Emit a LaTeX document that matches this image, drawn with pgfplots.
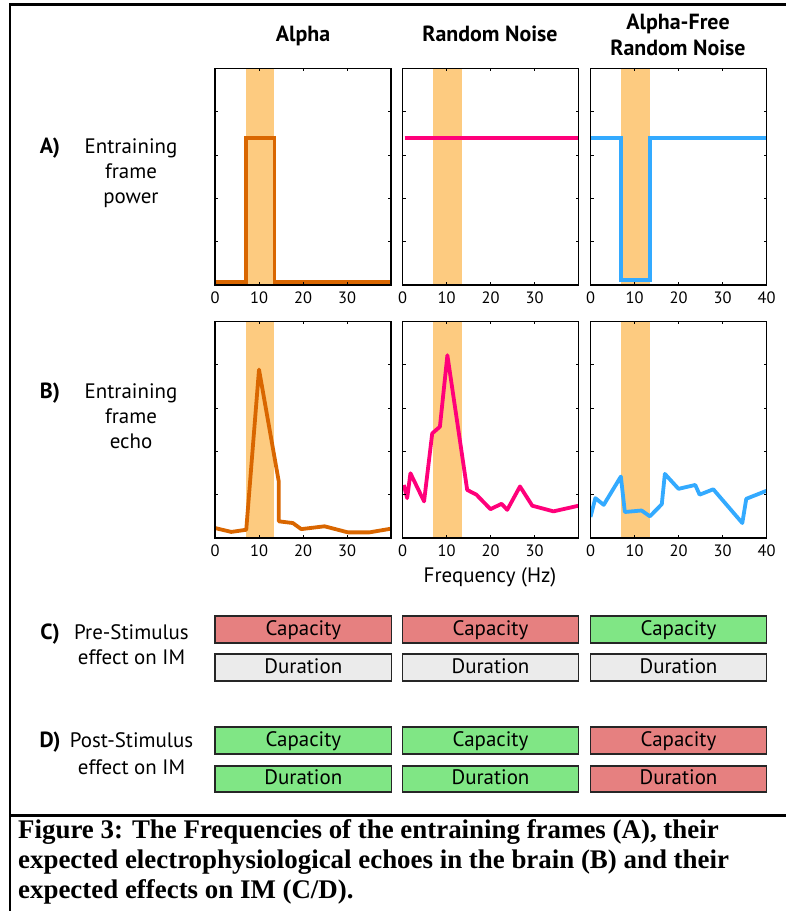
\documentclass[border=0pt]{standalone}
\usepackage{fontspec}
\setmainfont{PT Sans}
\newfontfamily\capfont{Liberation Serif}
\usepackage{pgfplots}
\pgfplotsset{compat=1.18}
\definecolor{band}{RGB}{253,203,128}
\definecolor{ora}{RGB}{217,102,0}
\definecolor{pnk}{RGB}{255,0,122}
\definecolor{blu}{RGB}{51,170,255}
\definecolor{cred}{RGB}{230,128,128}
\definecolor{cgrn}{RGB}{128,230,133}
\definecolor{cgry}{RGB}{235,235,235}
\pgfplotsset{
  panel/.style={scale only axis, width=176bp, height=216.5bp,
    xmin=0, xmax=40, ymin=0, ymax=1,
    xtick={0,10,20,30,40}, ytick={0.2,0.4,0.6,0.8}, yticklabels={},
    tick align=inside, major tick length=3bp,
    axis line style={line width=1.2bp},
    tick style={line width=0.8bp, black},
    ticklabel style={font=\fontsize{16.5}{16.5}\selectfont},
    xticklabel style={yshift=-3bp},
    /pgf/number format/assume math mode=true,
    axis on top, clip=true},
  band/.style={draw=none, fill=band, forget plot},
  step/.style={line width=3.8bp, line join=miter},
  echo/.style={line width=3.8bp, line join=round},
}
\newcommand{\lab}{\fontsize{21}{21}\selectfont}
\newcommand{\ttl}{\bfseries\fontsize{22}{22}\selectfont}
\begin{document}
\begin{tikzpicture}
\begin{scope}[x=1bp, y=1bp]
\path[use as bounding box] (0,0) rectangle (786,911);
% frame
\draw[line width=2.5bp] (10,0) -- (10,906.5) -- (786,906.5);
\draw[line width=2.5bp] (10,95.5) -- (786,95.5);
% titles
\node[anchor=base, font=\ttl] at (303,869) {Alpha};
\node[anchor=base, font=\ttl] at (490,869) {Random Noise};
\node[anchor=base, font=\ttl] at (678,881) {Alpha-Free};
\node[anchor=base, font=\ttl] at (678,855) {Random Noise};
% row A
\node[anchor=base, font=\ttl] at (50,757) {A)};
\node[anchor=base, font=\lab] at (131,757) {Entraining};
\node[anchor=base, font=\lab] at (131,732) {frame};
\node[anchor=base, font=\lab] at (131,707) {power};
% row B
\node[anchor=base, font=\ttl] at (50,512) {B)};
\node[anchor=base, font=\lab] at (131,512) {Entraining};
\node[anchor=base, font=\lab] at (131,487) {frame};
\node[anchor=base, font=\lab] at (131,462) {echo};
\node[anchor=base, font=\lab] at (490,328) {Frequency (Hz)};
% rows C/D labels
\node[anchor=base, font=\ttl] at (50,271) {C)};
\node[anchor=base, font=\lab] at (131.5,271) {Pre-Stimulus};
\node[anchor=base, font=\lab] at (131.5,246) {effect on IM};
\node[anchor=base, font=\ttl] at (50,163) {D)};
\node[anchor=base, font=\lab] at (131.5,163) {Post-Stimulus};
\node[anchor=base, font=\lab] at (131.5,136) {effect on IM};
% boxes
\foreach \xl/\xr/\ca/\cb/\da/\db in {215/391.7/cred/cgry/cgrn/cgrn, 402.5/578.5/cred/cgry/cgrn/cgrn, 590.5/766.5/cgrn/cgry/cred/cred}{
  \draw[line width=1.2bp, fill=\ca, draw=black!85] (\xl,295) rectangle (\xr,268);
  \draw[line width=1.2bp, fill=\cb, draw=black!85] (\xl,257) rectangle (\xr,230);
  \draw[line width=1.2bp, fill=\da, draw=black!85] (\xl,184) rectangle (\xr,157);
  \draw[line width=1.2bp, fill=\db, draw=black!85] (\xl,145) rectangle (\xr,119);
  \node[anchor=base, font=\lab] at ({(\xl+\xr)/2},275) {Capacity};
  \node[anchor=base, font=\lab] at ({(\xl+\xr)/2},237) {Duration};
  \node[anchor=base, font=\lab] at ({(\xl+\xr)/2},164) {Capacity};
  \node[anchor=base, font=\lab] at ({(\xl+\xr)/2},126) {Duration};
}
% caption
\node[anchor=base west, inner sep=0pt, font=\capfont\bfseries\fontsize{27}{27}\selectfont] at (18,72) {Figure 3: The Frequencies of the entraining frames (A), their};
\node[anchor=base west, inner sep=0pt, font=\capfont\bfseries\fontsize{27}{27}\selectfont] at (18,42) {expected electrophysiological echoes in the brain (B) and their};
\node[anchor=base west, inner sep=0pt, font=\capfont\bfseries\fontsize{27}{27}\selectfont] at (18,12) {expected effects on IM (C/D).};
\end{scope}
% axes row 1
\begin{axis}[panel, at={(215bp,626bp)}, anchor=south west, xticklabels={0,10,20,30,{}}]
\addplot[band] coordinates {(7,1) (13.5,1)} \closedcycle;
\addplot[step, ora] coordinates {(0,0.012)(7,0.012)(7,0.68)(13.5,0.68)(13.5,0.012)(40,0.012)};
\end{axis}
\begin{axis}[panel, at={(402.5bp,626bp)}, anchor=south west, xticklabels={0,10,20,30,{}}]
\addplot[band] coordinates {(7,1) (13.5,1)} \closedcycle;
\addplot[step, pnk] coordinates {(0.5,0.68)(40,0.68)};
\end{axis}
\begin{axis}[panel, at={(590.5bp,626bp)}, anchor=south west]
\addplot[band] coordinates {(7,1) (13.5,1)} \closedcycle;
\addplot[step, blu] coordinates {(0,0.68)(7,0.68)(7,0.022)(13.5,0.022)(13.5,0.68)(40,0.68)};
\end{axis}
% axes row 2
\begin{axis}[panel, at={(215bp,373bp)}, anchor=south west, xticklabels={0,10,20,30,{}}]
\addplot[band] coordinates {(7,1) (13.5,1)} \closedcycle;
\addplot[echo, ora] coordinates {(0,0.046)(3.7,0.028)(7.1,0.038)(10,0.778)(14.5,0.26)(14.5,0.077)(17.7,0.069)(19.6,0.041)(24.9,0.054)(30.2,0.026)(35.1,0.026)(40,0.043)};
\end{axis}
\begin{axis}[panel, at={(402.5bp,373bp)}, anchor=south west, xticklabels={0,10,20,30,{}}]
\addplot[band] coordinates {(7,1) (13.5,1)} \closedcycle;
\addplot[echo, pnk] coordinates {(0.3,0.245)(1.06,0.184)(1.8,0.299)(4.9,0.169)(6.75,0.483)(8.5,0.514)(10.2,0.844)(14.7,0.222)(16.8,0.2)(20.0,0.133)(22.5,0.158)(23.8,0.13)(26.7,0.238)(29.5,0.149)(34.3,0.123)(40,0.149)};
\end{axis}
\begin{axis}[panel, at={(590.5bp,373bp)}, anchor=south west]
\addplot[band] coordinates {(7,1) (13.5,1)} \closedcycle;
\addplot[echo, blu] coordinates {(0,0.097)(1.1,0.184)(3.0,0.153)(6.9,0.284)(7.8,0.12)(11.6,0.127)(13.5,0.1)(16.2,0.156)(16.9,0.296)(20.0,0.227)(23.8,0.245)(24.8,0.2)(27.9,0.225)(34.5,0.069)(35.4,0.181)(40,0.218)};
\end{axis}
\end{tikzpicture}
\end{document}
